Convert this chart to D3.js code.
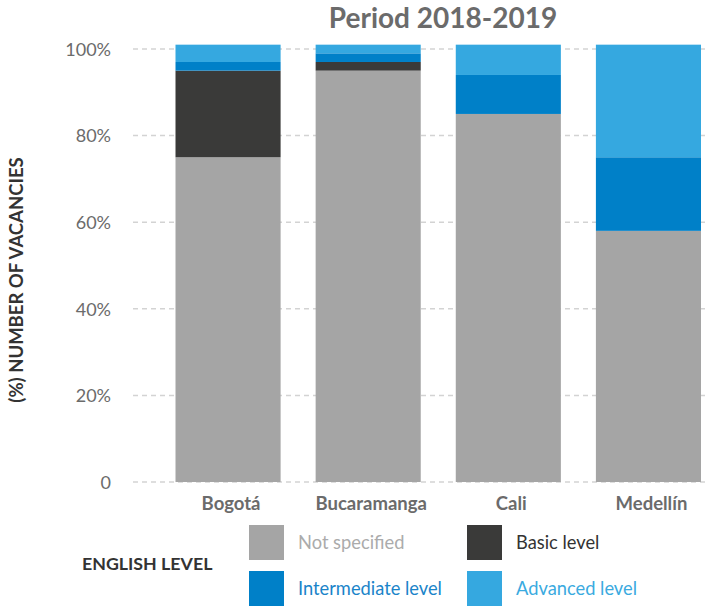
<!DOCTYPE html>
<html>
<head>
<meta charset="utf-8">
<script src="https://cdn.jsdelivr.net/npm/d3@7"></script>
<style>
  html, body { margin: 0; padding: 0; background: #fff; }
  svg { display: block; font-family: Lato, "Open Sans", sans-serif; }
</style>
</head>
<body>
<svg id="chart" width="707" height="606"></svg>
<script>
// Share of vacancies by required English level, per city (2018-2019)
const cities = ["Bogotá", "Bucaramanga", "Cali", "Medellín"];
const levels = ["Not specified", "Basic level", "Intermediate level", "Advanced level"];
const notSpecified = [75, 95, 85, 58];
const basicLevel = [20, 2, 0, 0];
const intermediateLevel = [2, 2, 9, 17];
const advancedLevel = [4, 2, 7, 26];
const yTicks = [0, 20, 40, 60, 80, 100];
const levelColors = ["#a5a5a5", "#3a3a39", "#0080c8", "#35a8e0"];
const legendTextColors = ["#ababab", "#333333", "#1a84c9", "#3aaae0"];

const rows = cities.map((c, i) => ({
  city: c,
  "Not specified": notSpecified[i],
  "Basic level": basicLevel[i],
  "Intermediate level": intermediateLevel[i],
  "Advanced level": advancedLevel[i]
}));

const svg = d3.select("#chart");

const x = d3.scaleBand().domain(cities).range([175.5, 701]).paddingInner(0.25).paddingOuter(0);
const y = d3.scaleLinear().domain([0, 100]).range([482, 49]);
const color = d3.scaleOrdinal().domain(levels).range(levelColors);

// Dashed horizontal grid
const grid = svg.append("g").attr("class", "grid");
grid.selectAll("line").data(yTicks).join("line")
  .attr("x1", 133).attr("x2", 707)
  .attr("y1", d => y(d)).attr("y2", d => y(d))
  .attr("stroke", "#d3d3d3").attr("stroke-width", 1.5)
  .attr("stroke-dasharray", "5,4");

// Y axis tick labels
const yAxis = d3.axisLeft(y).tickValues(yTicks).tickSize(0).tickPadding(0)
  .tickFormat(d => d === 0 ? "0" : d + "%");
const yg = svg.append("g").attr("transform", "translate(111,0)").call(yAxis);
yg.select(".domain").remove();
yg.selectAll("text")
  .attr("font-family", "Lato, sans-serif").attr("font-size", 18)
  .attr("fill", "#6b6b6b").attr("dy", "0.35em");

// Stacked bars
const stack = d3.stack().keys(levels)(rows);
svg.append("g").selectAll("g").data(stack).join("g")
  .attr("fill", d => color(d.key))
  .selectAll("rect").data(d => d).join("rect")
  .attr("x", d => x(d.data.city))
  .attr("width", x.bandwidth())
  .attr("y", d => y(d[1]))
  .attr("height", d => y(d[0]) - y(d[1]));

// X axis category labels
const xAxis = d3.axisBottom(x).tickSize(0).tickPadding(0);
const xg = svg.append("g").attr("transform", "translate(3,504)").call(xAxis);
xg.select(".domain").remove();
xg.selectAll("text")
  .attr("font-family", "Lato, sans-serif").attr("font-size", 18.5)
  .attr("font-weight", "bold").attr("fill", "#6b6b6b").attr("dy", "0.32em");

// Title
svg.append("text")
  .attr("x", 443).attr("y", 28)
  .attr("text-anchor", "middle")
  .attr("font-size", 28).attr("font-weight", "bold")
  .attr("fill", "#6b6b6b")
  .text("Period 2018-2019");

// Y axis title
svg.append("text")
  .attr("transform", "translate(23,280) rotate(-90)")
  .attr("text-anchor", "middle")
  .attr("font-size", 18.5).attr("font-weight", "bold")
  .attr("fill", "#333")
  .text("(%) NUMBER OF VACANCIES");

// Legend
svg.append("text")
  .attr("x", 82).attr("y", 570)
  .attr("font-size", 17.8).attr("font-weight", "bold")
  .attr("fill", "#333")
  .text("ENGLISH LEVEL");

const legend = svg.append("g").selectAll("g").data(levels).join("g")
  .attr("transform", (d, i) => `translate(${249 + (i % 2) * 218},${525 + Math.floor(i / 2) * 46})`);
legend.append("rect")
  .attr("width", 35).attr("height", 35)
  .attr("fill", d => color(d));
legend.append("text")
  .attr("x", 49).attr("y", 17.5).attr("dy", "0.35em")
  .attr("font-size", 18.3)
  .attr("fill", (d, i) => legendTextColors[i])
  .text(d => d);
</script>
</body>
</html>
